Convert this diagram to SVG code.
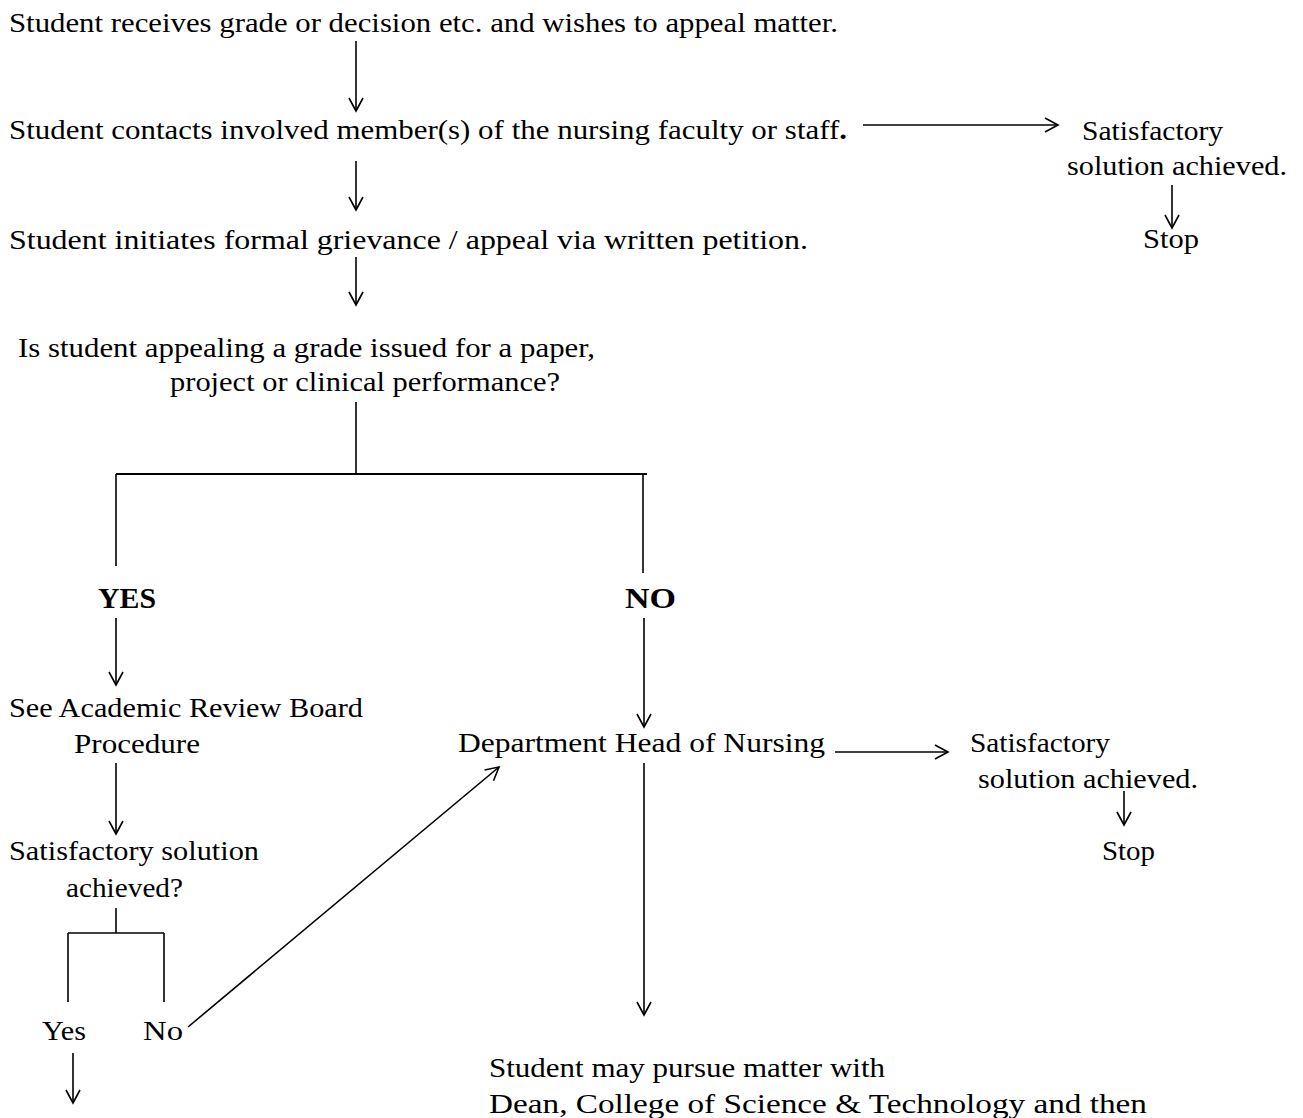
<svg xmlns="http://www.w3.org/2000/svg" width="1303" height="1118" viewBox="0 0 1303 1118">
<style>
text{font-family:"Liberation Serif","Times New Roman",serif;font-size:28px;fill:#000}
.b{font-weight:bold;font-size:29px}
.c line{stroke:#000;stroke-width:1.6;fill:none}
.c .arr{marker-end:url(#ah)}
</style>
<defs>
<marker id="ah" markerUnits="userSpaceOnUse" markerWidth="18" markerHeight="18" refX="14" refY="8" orient="auto" overflow="visible">
<path d="M1,1 L14,8 L1,15" fill="none" stroke="#000" stroke-width="1.6"/>
</marker>
</defs>
<rect width="1303" height="1118" fill="#fff"/>
<g class="c" id="connectors">
<line class="arr" x1="356" y1="41" x2="356" y2="111"/>
<line class="arr" x1="356" y1="161" x2="356" y2="210"/>
<line class="arr" x1="356" y1="257" x2="356" y2="305"/>
<line class="arr" x1="863" y1="125" x2="1058" y2="125"/>
<line class="arr" x1="1172" y1="185" x2="1172" y2="228"/>
<line x1="356" y1="402" x2="356" y2="474"/>
<line x1="116" y1="474" x2="647" y2="474" style="stroke-width:2"/>
<line x1="116" y1="474" x2="116" y2="566"/>
<line x1="643" y1="474" x2="643" y2="573"/>
<line class="arr" x1="116" y1="618" x2="116" y2="685"/>
<line class="arr" x1="644" y1="618" x2="644" y2="727"/>
<line class="arr" x1="116" y1="763" x2="116" y2="834"/>
<line x1="116" y1="908" x2="116" y2="933"/>
<line x1="68" y1="933" x2="164" y2="933"/>
<line x1="68" y1="933" x2="68" y2="1002"/>
<line x1="164" y1="933" x2="164" y2="1002"/>
<line class="arr" x1="73" y1="1053" x2="73" y2="1103"/>
<line class="arr" x1="188" y1="1027" x2="499" y2="767"/>
<line class="arr" x1="835" y1="752" x2="948" y2="752"/>
<line class="arr" x1="1124" y1="791" x2="1124" y2="825"/>
<line class="arr" x1="644" y1="763" x2="644" y2="1015"/>
</g>
<g id="n1"><text x="9" y="32" textLength="829" lengthAdjust="spacingAndGlyphs">Student receives grade or decision etc. and wishes to appeal matter.</text></g>
<g id="n2"><text x="9" y="139" textLength="838" lengthAdjust="spacingAndGlyphs">Student contacts involved member(s) of the nursing faculty or staff<tspan font-weight="bold">.</tspan></text></g>
<g id="n3"><text x="9" y="249" textLength="799" lengthAdjust="spacingAndGlyphs">Student initiates formal grievance / appeal via written petition.</text></g>
<g id="n4"><text x="18" y="357" textLength="577" lengthAdjust="spacingAndGlyphs">Is student appealing a grade issued for a paper,</text><text x="170" y="391" textLength="390" lengthAdjust="spacingAndGlyphs">project or clinical performance?</text></g>
<g id="n5"><text x="1082" y="140" textLength="141" lengthAdjust="spacingAndGlyphs">Satisfactory</text><text x="1067" y="175" textLength="220" lengthAdjust="spacingAndGlyphs">solution achieved.</text></g>
<g id="n6"><text x="1143" y="248" textLength="56" lengthAdjust="spacingAndGlyphs">Stop</text></g>
<g id="n7"><text class="b" x="98" y="608" textLength="58" lengthAdjust="spacingAndGlyphs">YES</text></g>
<g id="n8"><text class="b" x="625" y="608" textLength="51" lengthAdjust="spacingAndGlyphs">NO</text></g>
<g id="n9"><text x="9" y="717" textLength="354" lengthAdjust="spacingAndGlyphs">See Academic Review Board</text><text x="74" y="753" textLength="126" lengthAdjust="spacingAndGlyphs">Procedure</text></g>
<g id="n10"><text x="9" y="860" textLength="250" lengthAdjust="spacingAndGlyphs">Satisfactory solution</text><text x="66" y="897" textLength="117" lengthAdjust="spacingAndGlyphs">achieved?</text></g>
<g id="n11"><text x="42" y="1040" textLength="44" lengthAdjust="spacingAndGlyphs">Yes</text></g>
<g id="n12"><text x="143" y="1040" textLength="40" lengthAdjust="spacingAndGlyphs">No</text></g>
<g id="n13"><text x="458" y="752" textLength="367" lengthAdjust="spacingAndGlyphs">Department Head of Nursing</text></g>
<g id="n14"><text x="970" y="752" textLength="140" lengthAdjust="spacingAndGlyphs">Satisfactory</text><text x="978" y="788" textLength="220" lengthAdjust="spacingAndGlyphs">solution achieved.</text></g>
<g id="n15"><text x="1102" y="860" textLength="53" lengthAdjust="spacingAndGlyphs">Stop</text></g>
<g id="n16"><text x="489" y="1077" textLength="396" lengthAdjust="spacingAndGlyphs">Student may pursue matter with</text><text x="489" y="1113" textLength="658" lengthAdjust="spacingAndGlyphs">Dean, College of Science &amp; Technology and then</text></g>
</svg>
